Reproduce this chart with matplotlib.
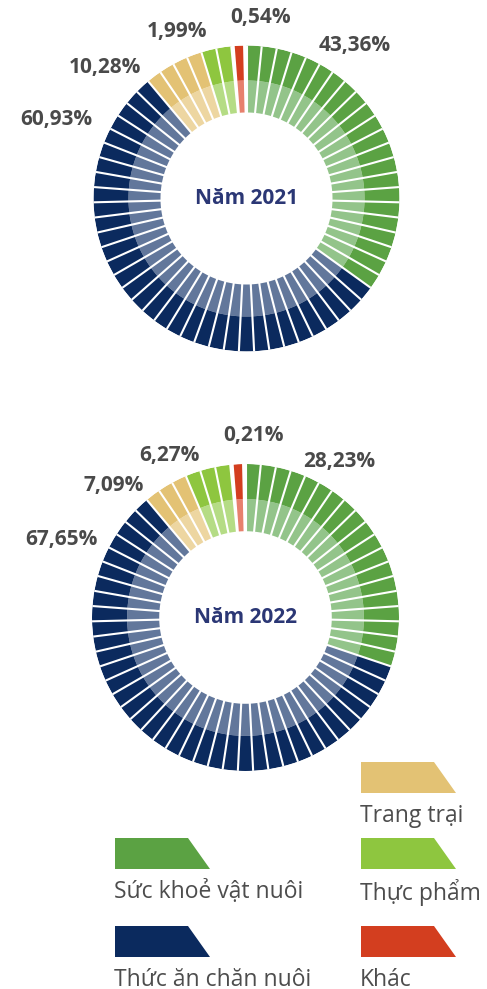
import numpy as np
import matplotlib.pyplot as plt
from matplotlib.patches import Polygon

plt.rcParams['font.family'] = ['Open Sans', 'DejaVu Sans']

# categories, clockwise from the top
categories = ['Sức khoẻ vật nuôi', 'Thức ăn chăn nuôi', 'Trang trại', 'Thực phẩm', 'Khác']
dark = ['#5ba243', '#0b2a5e', '#e3c274', '#8ec63f', '#d33e1f']
light = ['#93c48a', '#62779b', '#edd6a1', '#b5dc85', '#e7806d']

years = ['Năm 2021', 'Năm 2022']
segments_2021 = [22, 34, 4, 2, 1]
segments_2022 = [19, 37, 3, 3, 1]
labels_2021 = ['43,36%', '60,93%', '10,28%', '1,99%', '0,54%']
labels_2022 = ['28,23%', '67,65%', '7,09%', '6,27%', '0,21%']

W, H = 487, 989
fig = plt.figure(figsize=(W / 100, H / 100), dpi=100)

# layout (pixels): donut centre, outer radius, label spots
donuts = [
    dict(cx=246.5, cy=198.5, r=153, segs=segments_2021, labels=labels_2021,
         spots=[(355, 45), (56, 120), (105, 67), (177, 32), (261, 17)]),
    dict(cx=245.5, cy=617.5, r=153.5, segs=segments_2022, labels=labels_2022,
         spots=[(339, 461), (61, 540), (114, 486), (169, 455), (254, 435)]),
]
r_in, r_mid, r_out = 86, 118, 153

for year, d in zip(years, donuts):
    r = d['r']
    ax = fig.add_axes([(d['cx'] - r) / W, 1 - (d['cy'] + r) / H, 2 * r / W, 2 * r / H],
                      projection='polar')
    ax.set_theta_zero_location('N')
    ax.set_theta_direction(-1)
    ax.set_ylim(0, r_out)
    ax.axis('off')

    total = sum(d['segs'])
    pitch = 2 * np.pi / total
    k = 0
    for i, n in enumerate(d['segs']):
        idx = np.arange(k, k + n)
        k += n
        theta = (idx + 0.5) * pitch
        w = pitch if categories[i] != 'Khác' else pitch * 0.55
        ax.bar(theta, r_mid - r_in, width=w, bottom=r_in, color=light[i], linewidth=0)
        ax.bar(theta, r_out - r_mid, width=w, bottom=r_mid, color=dark[i], linewidth=0)
    for a in np.arange(total) * pitch:
        ax.plot([a, a], [r_in - 5, r_out + 5], color='white', lw=1.5, solid_capstyle='butt')

    ax.text(0, 0, year, ha='center', va='center', fontsize=15, fontweight='bold',
            color='#2b3775')

    for lab, (x, y) in zip(d['labels'], d['spots']):
        fig.text(x / W, 1 - y / H, lab, ha='center', va='center', fontsize=15,
                 fontweight='bold', color='#4a4a4a')

# legend
lax = fig.add_axes([0, 0, 1, 1])
lax.set_xlim(0, W)
lax.set_ylim(H, 0)
lax.axis('off')
legend_spots = [(115, 838), (115, 926), (361, 762), (361, 838), (361, 926)]
for i, (x, y) in enumerate(legend_spots):
    lax.add_patch(Polygon([(x, y), (x + 73, y), (x + 95, y + 31), (x, y + 31)],
                          closed=True, facecolor=dark[i], edgecolor='none'))
    lax.text(x - 1, y + 54, categories[i], ha='left', va='center', fontsize=16.5,
             color='#4d4d4d')

fig.savefig('out.png', dpi=100)
